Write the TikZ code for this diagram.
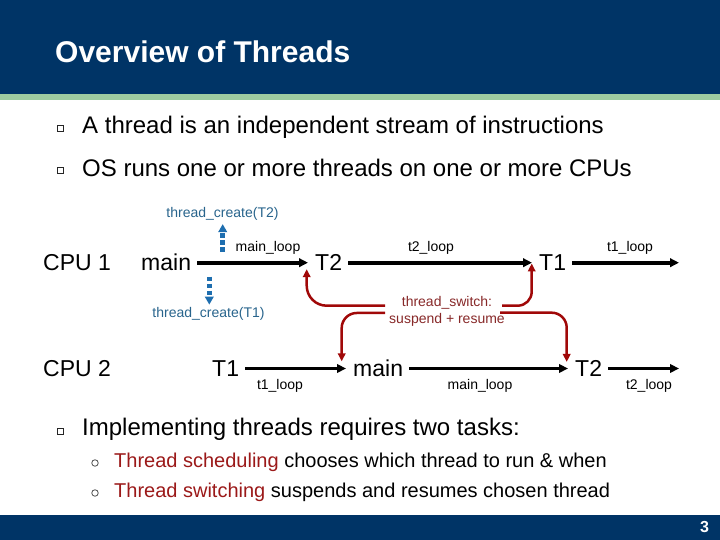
\documentclass[tikz,border=0pt]{standalone}
\usepackage{fontspec}
\setmainfont{Liberation Sans}
\usetikzlibrary{arrows.meta}
\definecolor{hdr}{RGB}{0,52,102}
\definecolor{stripe}{RGB}{158,203,160}
\definecolor{cblue}{RGB}{30,110,175}
\definecolor{tblue}{RGB}{40,100,140}
\definecolor{sred}{RGB}{160,8,8}
\definecolor{tred}{RGB}{135,40,40}
\definecolor{hred}{RGB}{155,25,25}
\begin{document}
\begin{tikzpicture}[x=1pt,y=1pt,
  big/.style={font=\fontsize{23}{27}\selectfont, inner sep=0pt, anchor=base west},
  lbl/.style={font=\fontsize{14}{16}\selectfont, inner sep=0pt, anchor=base},
  bul/.style={font=\fontsize{24}{28}\selectfont, inner sep=0pt, anchor=base west},
  sub/.style={font=\fontsize{20}{24}\selectfont, inner sep=0pt, anchor=base west},
  sq/.style={draw=black!85, line width=0.9pt, minimum width=6.5pt, minimum height=6pt, inner sep=0pt},
  ring/.style={draw=black!70, line width=0.8pt, circle, minimum size=6.5pt, inner sep=0pt},
  flow/.style={line width=3.7pt, -{Triangle[length=9pt,width=8.5pt]}, shorten <=6pt, shorten >=7pt},
  create/.style={cblue, line width=4.5pt, dash pattern=on 4.5pt off 2.5pt, -{Triangle[length=8pt,width=8.5pt]}},
  switch/.style={sred, line width=2.5pt, -{Triangle[length=8pt,width=7.5pt]}},
]
\useasboundingbox (0,0) rectangle (720,540);
% header and footer
\fill[hdr] (0,445.7) rectangle (720,540);
\fill[stripe] (0,440) rectangle (720,445.7);
\fill[hdr] (0,0) rectangle (720,25);
\node[anchor=base west, inner sep=0pt, text=white, font=\fontsize{30}{34}\selectfont\bfseries] (title) at (55,477.5) {Overview of Threads};
\node[text=white, inner sep=0pt, font=\fontsize{16}{18}\selectfont\bfseries] (pg) at (704.5,13) {3};

% top bullets
\node[sq] (b1) at (60.3,412) {};
\node[bul] (t1) at (82,406.4) {A thread is an independent stream of instructions};
\node[sq] (b2) at (60.3,370) {};
\node[bul] (t2) at (82,363.4) {OS runs one or more threads on one or more CPUs};

% diagram rows
\coordinate (r1) at (0,277.3);
\coordinate (r2) at (0,171.5);
\coordinate (end1) at (686,277.3);
\coordinate (end2) at (686,171.5);

\node[big] (cpu1) at (43,269) {CPU 1};
\node[big] (main1) at (141,269) {main};
\node[big] (t2a) at (315,269) {T2};
\node[big] (t1a) at (539,269) {T1};
\node[big] (cpu2) at (43,163) {CPU 2};
\node[big] (t1b) at (212,163) {T1};
\node[big] (main2) at (353,163) {main};
\node[big] (t2b) at (575,163) {T2};

\draw[flow] (main1.east |- r1) -- (t2a.west |- r1);
\draw[flow] (t2a.east |- r1) -- (t1a.west |- r1);
\draw[flow] (t1a.east |- r1) -- (end1);
\draw[flow] (t1b.east |- r2) -- (main2.west |- r2);
\draw[flow] (main2.east |- r2) -- (t2b.west |- r2);
\draw[flow] (t2b.east |- r2) -- (end2);

\node[lbl] (l1) at (268,288.3) {main\_loop};
\node[lbl] (l2) at (431,288.3) {t2\_loop};
\node[lbl] (l3) at (630,288.3) {t1\_loop};
\node[lbl] (l4) at (280,150) {t1\_loop};
\node[lbl] (l5) at (480,150) {main\_loop};
\node[lbl] (l6) at (649,150) {t2\_loop};

% thread_create
\node[lbl, text=tblue] (tc2) at (222.5,322) {thread\_create(T2)};
\node[lbl, text=tblue] (tc1) at (208.5,222) {thread\_create(T1)};
\coordinate (cu0) at (222.7,288.3);
\coordinate (cd0) at (209.3,263.3);
\draw[create] (cu0) -- (tc2.south -| cu0) [shorten >=3pt];
\draw[create] (cd0) -- (tc1.north -| cd0) [shorten >=3pt];

% thread_switch
\node[lbl, text=tred] (sw1) at (447,233) {thread\_switch:};
\node[lbl, text=tred] (sw2) at (447,216.5) {suspend + resume};
\coordinate (swtl) at (385,234.3);
\coordinate (swbl) at (385,227);
\coordinate (swtr) at (502,234.3);
\coordinate (swbr) at (500,227.3);
\draw[switch, rounded corners=20pt] (swtl) -| ([shift={(-8.3,2)}]t2a.south west);
\draw[switch, rounded corners=15pt] (swbl) -| ([shift={(-11.3,-1.2)}]main2.north west);
\draw[switch, rounded corners=14pt] (swtr) -| ([shift={(-7.3,7.7)}]t1a.south west);
\draw[switch, rounded corners=15pt] (swbr) -| ([shift={(-8.3,-1.2)}]t2b.north west);

% bottom bullets
\node[sq] (b3) at (60.3,109) {};
\node[bul] (t3) at (82,104.4) {Implementing threads requires two tasks:};
\node[ring] (o1) at (95,77) {};
\node[sub] (s1) at (114,72) {\textcolor{hred}{Thread scheduling} chooses which thread to run \& when};
\node[ring] (o2) at (95,47) {};
\node[sub] (s2) at (114,42) {\textcolor{hred}{Thread switching} suspends and resumes chosen thread};
\end{tikzpicture}
\end{document}
